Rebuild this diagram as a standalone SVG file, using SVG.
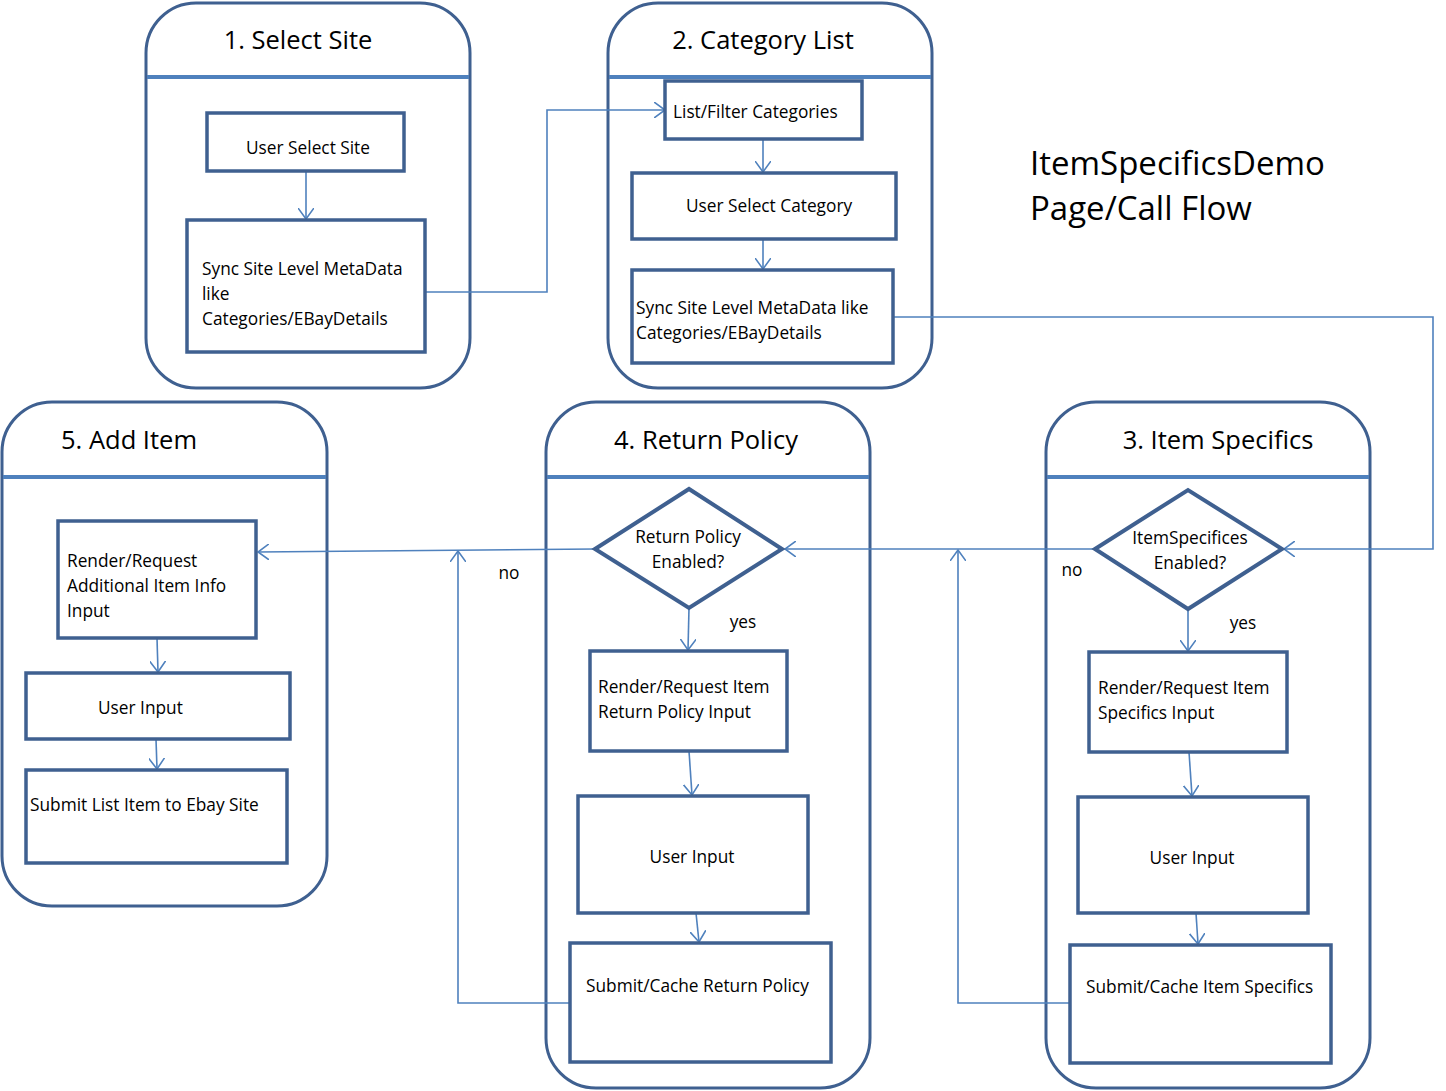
<svg xmlns="http://www.w3.org/2000/svg" width="1446" height="1091" viewBox="0 0 1446 1091">
<style>
.lane{fill:none;stroke:#3f6090;stroke-width:3}
.hdr{stroke:#4f81bd;stroke-width:4}
.box{fill:#fff;stroke:#3f6090;stroke-width:3.5}
.dia{fill:#fff;stroke:#3f6090;stroke-width:4}
.con{fill:none;stroke:#4f81bd;stroke-width:1.6}
text{font-family:"Open Sans","Noto Sans","Liberation Sans",sans-serif;fill:#000}
.t{font-size:25.5px}
.s{font-size:17.3px}
.m{text-anchor:middle}
.big{font-size:33px}
</style>
<defs>
<marker id="arr" viewBox="0 0 12 16" refX="11" refY="8" markerWidth="12" markerHeight="16" markerUnits="userSpaceOnUse" orient="auto">
<path d="M0,0 L11,8 L0,16" fill="none" stroke="#4f81bd" stroke-width="1.6"/>
</marker>
</defs>
<rect width="1446" height="1091" fill="#fff"/>

<g id="lane1">
<rect class="lane" x="146" y="3" width="324" height="385" rx="50"/>
<line class="hdr" x1="147" y1="77" x2="469" y2="77"/>
<text class="t m" x="298" y="49">1. Select Site</text>
</g>
<g id="lane2">
<rect class="lane" x="608" y="3" width="324" height="385" rx="50"/>
<line class="hdr" x1="609" y1="77" x2="931" y2="77"/>
<text class="t m" x="763" y="49">2. Category List</text>
</g>
<g id="lane5">
<rect class="lane" x="2" y="402" width="325" height="504" rx="50"/>
<line class="hdr" x1="3" y1="477" x2="326" y2="477"/>
<text class="t" x="61" y="449">5. Add Item</text>
</g>
<g id="lane4">
<rect class="lane" x="546" y="402" width="324" height="686" rx="50"/>
<line class="hdr" x1="547" y1="477" x2="869" y2="477"/>
<text class="t m" x="706" y="449">4. Return Policy</text>
</g>
<g id="lane3">
<rect class="lane" x="1046" y="402" width="324" height="686" rx="50"/>
<line class="hdr" x1="1047" y1="477" x2="1369" y2="477"/>
<text class="t m" x="1218" y="449">3. Item Specifics</text>
</g>

<g id="title">
<text class="big" x="1030" y="175">ItemSpecificsDemo</text>
<text class="big" x="1030" y="220">Page/Call Flow</text>
</g>

<g id="connectors">
<path class="con" d="M306,171 V219" marker-end="url(#arr)"/>
<path class="con" d="M425,292 H547 V110 H665" marker-end="url(#arr)"/>
<path class="con" d="M763,139 V172" marker-end="url(#arr)"/>
<path class="con" d="M763,239 V269" marker-end="url(#arr)"/>
<path class="con" d="M893,317 H1433 V549 H1284" marker-end="url(#arr)"/>
<path class="con" d="M1095,549 H785" marker-end="url(#arr)"/>
<path class="con" d="M1188,609 V651" marker-end="url(#arr)"/>
<path class="con" d="M1189,752 L1192,796" marker-end="url(#arr)"/>
<path class="con" d="M1196,913 L1198,944" marker-end="url(#arr)"/>
<path class="con" d="M1070,1003 H958 V550" marker-end="url(#arr)"/>
<path class="con" d="M595,549 L258,552" marker-end="url(#arr)"/>
<path class="con" d="M689,608 L688,650" marker-end="url(#arr)"/>
<path class="con" d="M689,751 L692,795" marker-end="url(#arr)"/>
<path class="con" d="M696,913 L699,942" marker-end="url(#arr)"/>
<path class="con" d="M570,1003 H458 V551" marker-end="url(#arr)"/>
<path class="con" d="M157,638 L158,672" marker-end="url(#arr)"/>
<path class="con" d="M156,739 L157,769" marker-end="url(#arr)"/>
<text class="s m" x="509" y="579">no</text>
<text class="s m" x="1072" y="576">no</text>
<text class="s m" x="743" y="628">yes</text>
<text class="s m" x="1243" y="629">yes</text>
</g>

<g id="userSelectSite">
<rect class="box" x="207" y="113" width="197" height="58"/>
<text class="s m" x="308" y="154">User Select Site</text>
</g>
<g id="syncSite1">
<rect class="box" x="187" y="220" width="238" height="132"/>
<text class="s" x="202" y="275">Sync Site Level MetaData</text>
<text class="s" x="202" y="300">like</text>
<text class="s" x="202" y="325">Categories/EBayDetails</text>
</g>
<g id="listFilter">
<rect class="box" x="665" y="81" width="197" height="58"/>
<text class="s" x="673" y="118">List/Filter Categories</text>
</g>
<g id="userSelectCategory">
<rect class="box" x="632" y="173" width="264" height="66"/>
<text class="s" x="686" y="212">User Select Category</text>
</g>
<g id="syncSite2">
<rect class="box" x="632" y="270" width="261" height="93"/>
<text class="s" x="636" y="314">Sync Site Level MetaData like</text>
<text class="s" x="636" y="339">Categories/EBayDetails</text>
</g>

<g id="renderAdditional">
<rect class="box" x="58" y="521" width="198" height="117"/>
<text class="s" x="67" y="567">Render/Request</text>
<text class="s" x="67" y="592">Additional Item Info</text>
<text class="s" x="67" y="617">Input</text>
</g>
<g id="userInput5">
<rect class="box" x="26" y="673" width="264" height="66"/>
<text class="s" x="98" y="714">User Input</text>
</g>
<g id="submitList">
<rect class="box" x="26" y="770" width="261" height="93"/>
<text class="s" x="30" y="811">Submit List Item to Ebay Site</text>
</g>

<g id="returnPolicyEnabled">
<polygon class="dia" points="595,549 689,489 782,549 689,608"/>
<text class="s m" x="688" y="543">Return Policy</text>
<text class="s m" x="688" y="568">Enabled?</text>
</g>
<g id="renderReturn">
<rect class="box" x="590" y="651" width="197" height="100"/>
<text class="s" x="598" y="693">Render/Request  Item</text>
<text class="s" x="598" y="718">Return Policy Input</text>
</g>
<g id="userInput4">
<rect class="box" x="578" y="796" width="230" height="117"/>
<text class="s m" x="692" y="863">User Input</text>
</g>
<g id="submitReturn">
<rect class="box" x="570" y="943" width="261" height="119"/>
<text class="s" x="586" y="992">Submit/Cache Return Policy</text>
</g>

<g id="itemSpecificsEnabled">
<polygon class="dia" points="1095,549 1188,490 1282,549 1188,609"/>
<text class="s m" x="1190" y="544">ItemSpecifices</text>
<text class="s m" x="1190" y="569">Enabled?</text>
</g>
<g id="renderSpecifics">
<rect class="box" x="1089" y="652" width="198" height="100"/>
<text class="s" x="1098" y="694">Render/Request  Item</text>
<text class="s" x="1098" y="719">Specifics Input</text>
</g>
<g id="userInput3">
<rect class="box" x="1078" y="797" width="230" height="116"/>
<text class="s m" x="1192" y="864">User Input</text>
</g>
<g id="submitSpecifics">
<rect class="box" x="1070" y="945" width="261" height="118"/>
<text class="s" x="1086" y="993">Submit/Cache Item Specifics</text>
</g>
</svg>
